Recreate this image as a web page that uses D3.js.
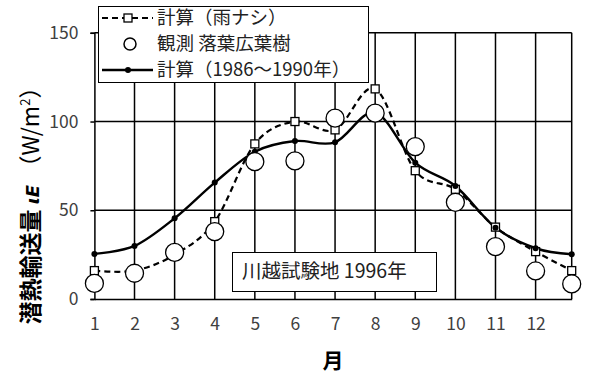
<!DOCTYPE html>
<html><head><meta charset="utf-8">
<script src="https://cdn.jsdelivr.net/npm/d3@7"></script>
<style>body{margin:0;background:#fff}svg{display:block}text{font-family:"Noto Sans CJK JP","Noto Sans",sans-serif}</style>
</head><body><svg id="c" width="600" height="383"></svg>
<script>
const months = [1,2,3,4,5,6,7,8,9,10,11,12,12.9];
const tickLabels = ["1","2","3","4","5","6","7","8","9","10","11","12"];
const yTicks = [0,50,100,150];
const calcNoRain = [16,16,25,43.6,87.4,100,95.3,118.4,72.3,61.8,40.5,26.7,16];
const observed = [8.8,14.5,26.3,38,77.4,77.8,101.9,104.7,85.9,54.5,29.5,15.8,8.5];
const calc8690 = [25.4,29.9,45.5,65.6,83,89,88.3,105,76.8,63.7,40.2,28.6,25.2];
const legendLabels = ["計算（雨ナシ）","観測 落葉広葉樹","計算（1986～1990年）"];
const note = "川越試験地 1996年";

const svg = d3.select("#c");
const x = d3.scaleLinear().domain([1,12.9]).range([94.4,571.7]);
const y = d3.scaleLinear().domain([0,150]).range([299,32.8]);
const g = svg.append("g");

// grid
g.selectAll(".hg").data(yTicks.slice(1)).join("line")
 .attr("x1",x(1)).attr("x2",x(12.9)).attr("y1",d=>y(d)).attr("y2",d=>y(d))
 .attr("stroke","#000").attr("stroke-width",1.5);
g.selectAll(".vg").data(d3.range(2,13).concat([12.9])).join("line")
 .attr("x1",d=>x(d)).attr("x2",d=>x(d)).attr("y1",y(0)).attr("y2",y(150))
 .attr("stroke","#000").attr("stroke-width",1.5);

// axes
const ya = d3.axisLeft(y).tickValues(yTicks).tickSize(4).tickPadding(12);
const yg = svg.append("g").attr("transform",`translate(${x(1)},0)`).call(ya);
yg.select(".domain").attr("stroke","#000").attr("stroke-width",1.5);
yg.selectAll("line").attr("stroke","#000").attr("stroke-width",1.5);
yg.selectAll("text").attr("font-size",17.5).attr("fill","#404040").attr("font-family","'Noto Sans CJK JP'");

const xa = d3.axisBottom(x).tickValues(d3.range(1,13)).tickFormat((d,i)=>tickLabels[i]).tickSize(0).tickPadding(19);
const xg = svg.append("g").attr("transform",`translate(0,${y(0)})`).call(xa);
xg.select(".domain").attr("stroke","#000").attr("stroke-width",1.5);
xg.selectAll("text").attr("font-size",17.5).attr("fill","#404040").attr("font-family","'Noto Sans CJK JP'");

// lines
const line = d3.line().x((d,i)=>x(months[i])).y(d=>y(d)).curve(d3.curveCardinal.tension(0));
svg.append("path").attr("d",line(calcNoRain)).attr("fill","none").attr("stroke","#000")
 .attr("stroke-width",2.2).attr("stroke-dasharray","6,4");
svg.append("path").attr("d",line(calc8690)).attr("fill","none").attr("stroke","#000").attr("stroke-width",2.4);
svg.selectAll(".sq").data(calcNoRain).join("rect")
 .attr("x",(d,i)=>x(months[i])-4).attr("y",d=>y(d)-4).attr("width",8).attr("height",8)
 .attr("fill","#fff").attr("stroke","#000").attr("stroke-width",1.3);
svg.selectAll(".dt").data(calc8690).join("circle")
 .attr("cx",(d,i)=>x(months[i])).attr("cy",d=>y(d)).attr("r",3).attr("fill","#000");
svg.selectAll(".ob").data(observed).join("circle")
 .attr("cx",(d,i)=>x(months[i])).attr("cy",d=>y(d)).attr("r",9)
 .attr("fill","#fff").attr("stroke","#000").attr("stroke-width",1.3);

// legend
const lg = svg.append("g");
lg.append("rect").attr("x",98.5).attr("y",6.5).attr("width",270).attr("height",76)
 .attr("fill","#fff").attr("stroke","#000").attr("stroke-width",1);
const rows=[18,44,70];
lg.append("line").attr("x1",102).attr("x2",153).attr("y1",rows[0]).attr("y2",rows[0])
 .attr("stroke","#000").attr("stroke-width",2.2).attr("stroke-dasharray","6,4");
lg.append("rect").attr("x",124).attr("y",rows[0]-4).attr("width",8).attr("height",8)
 .attr("fill","#fff").attr("stroke","#000").attr("stroke-width",1.3);
lg.append("circle").attr("cx",130).attr("cy",rows[1]).attr("r",6)
 .attr("fill","#fff").attr("stroke","#000").attr("stroke-width",1.5);
lg.append("line").attr("x1",102).attr("x2",153).attr("y1",rows[2]).attr("y2",rows[2])
 .attr("stroke","#000").attr("stroke-width",2.4);
lg.append("circle").attr("cx",128).attr("cy",rows[2]).attr("r",3).attr("fill","#000");
lg.selectAll(".lt").data(legendLabels).join("text")
 .attr("x",157).attr("y",(d,i)=>rows[i]).attr("dy","0.35em")
 .attr("font-size",18.5).attr("fill","#222").text(d=>d);

// note box
svg.append("rect").attr("x",232.5).attr("y",252.5).attr("width",204).attr("height",39)
 .attr("fill","#fff").attr("stroke","#000").attr("stroke-width",1);
svg.append("text").attr("x",242).attr("y",271).attr("dy","0.35em").attr("font-size",19.5)
 .attr("fill","#222").text(note);

// axis titles
svg.append("text").attr("x",333).attr("y",361).attr("dy","0.35em").attr("text-anchor","middle")
 .attr("font-size",21).attr("font-weight","bold").attr("fill","#000").text("月");
const yt = svg.append("text").attr("transform","translate(39,200) rotate(-90)")
 .attr("text-anchor","middle").attr("font-size",23).attr("fill","#000");
yt.append("tspan").attr("font-weight","bold").text("潜熱輸送量 ");
yt.append("tspan").attr("font-weight","bold").attr("font-style","italic").attr("font-family","'DejaVu Sans'").attr("font-size",18).text("ιE ");
yt.append("tspan").text("（W/m");
yt.append("tspan").attr("font-size",13).attr("dy",-9).text("2");
yt.append("tspan").attr("dy",9).text("）");
</script></body></html>
